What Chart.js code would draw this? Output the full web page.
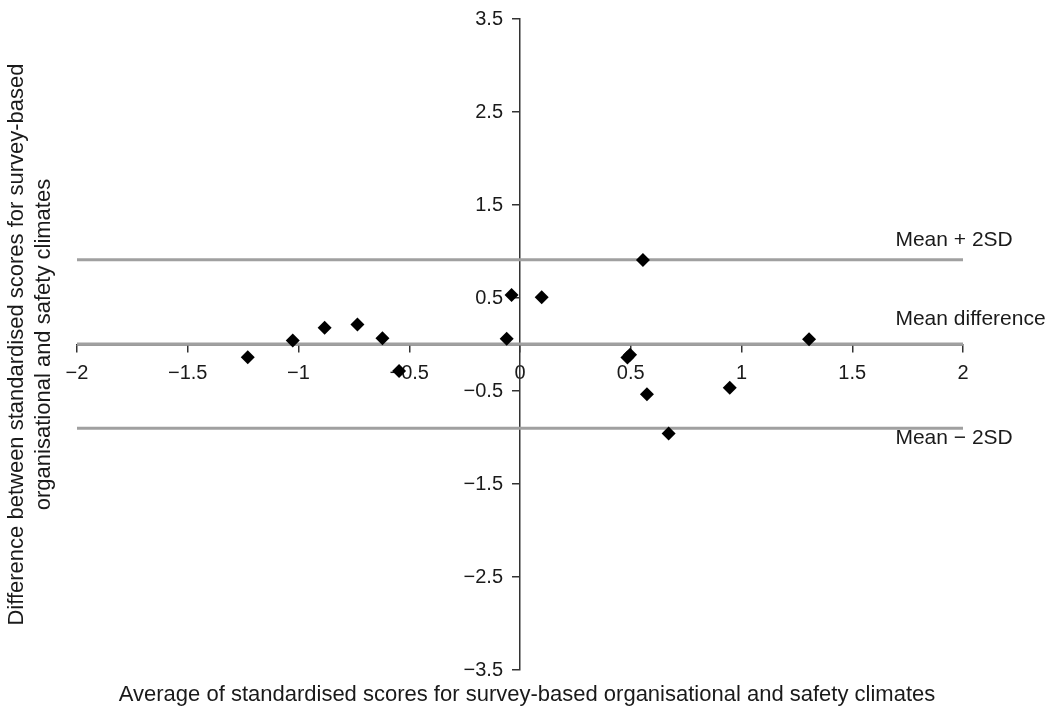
<!DOCTYPE html>
<html>
<head>
<meta charset="utf-8">
<script src="https://cdn.jsdelivr.net/npm/chart.js@4/dist/chart.umd.min.js"></script>
<style>
  html, body { margin: 0; padding: 0; background: #fff; }
  #wrap { width: 1054px; height: 711px; position: relative; }
</style>
</head>
<body>
<div id="wrap"><canvas id="blandAltman"></canvas></div>
<script>
// average of the two standardised scores (x) and their difference (y)
const avgScores = [-1.229, -1.026, -0.882, -0.734, -0.621, -0.546, -0.060, -0.038,
                   0.098, 0.555, 0.497, 0.485, 0.573, 0.671, 0.947, 1.305];
const diffScores = [-0.136, 0.043, 0.179, 0.214, 0.068, -0.286, 0.061, 0.533,
                    0.507, 0.908, -0.110, -0.140, -0.536, -0.957, -0.464, 0.057];

const limitNames = ["Mean + 2SD", "Mean difference", "Mean \u2212 2SD"];
const limitValues = [0.91, 0.005, -0.90];

const xTicks = [-2, -1.5, -1, -0.5, 0, 0.5, 1, 1.5, 2];
const yTicks = [-3.5, -2.5, -1.5, -0.5, 0.5, 1.5, 2.5, 3.5];

const xTitle = "Average of standardised scores for survey-based organisational and safety climates";
const yTitle = ["Difference between standardised scores for survey-based",
                "organisational and safety climates"];

const FONT = "'Liberation Sans', Arial, Helvetica, sans-serif";
const TEXT = "#1a1a1a";
const minus = (v) => String(v).replace("-", "\u2212");

const points = avgScores.map((x, i) => ({ x: x, y: diffScores[i] }));

const limitSets = limitValues.map((v, i) => ({
  label: limitNames[i],
  data: [{ x: xTicks[0], y: v }, { x: xTicks[xTicks.length - 1], y: v }],
  showLine: true,
  borderColor: "#a0a0a0",
  borderWidth: 3,
  pointRadius: 0,
}));

// y tick labels (left of the centred axis), limit line labels, axis titles
const annotations = {
  id: "annotations",
  afterDraw(chart) {
    const { ctx, scales } = chart;
    const axisX = scales.x.getPixelForValue(0);
    ctx.save();
    ctx.fillStyle = TEXT;

    ctx.font = "20px " + FONT;
    ctx.textAlign = "right";
    ctx.textBaseline = "middle";
    yTicks.forEach((v) => {
      ctx.fillText(minus(v), axisX - 17, scales.y.getPixelForValue(v));
    });

    ctx.font = "21px " + FONT;
    ctx.textAlign = "left";
    ctx.textBaseline = "alphabetic";
    const offsets = [-14, -19, 16];
    limitValues.forEach((v, i) => {
      const y = scales.y.getPixelForValue(v) + offsets[i];
      ctx.fillText(limitNames[i], scales.x.getPixelForValue(1.695), y);
    });

    ctx.font = "22px " + FONT;
    ctx.textAlign = "center";
    ctx.textBaseline = "middle";
    ctx.fillText(xTitle, 527, 695);

    ctx.translate(0, scales.y.getPixelForValue(0));
    ctx.rotate(-Math.PI / 2);
    ctx.fillText(yTitle[0], 0, 17);
    ctx.fillText(yTitle[1], 0, 44);
    ctx.restore();
  },
};

const axisColor = "#333";

new Chart(document.getElementById("blandAltman"), {
  type: "scatter",
  data: {
    datasets: [
      {
        label: "Organisations",
        data: points,
        pointStyle: "rectRot",
        pointRadius: 7,
        pointHoverRadius: 7,
        backgroundColor: "#000",
        borderColor: "#000",
        borderWidth: 0,
      },
      ...limitSets,
    ],
  },
  options: {
    responsive: true,
    maintainAspectRatio: false,
    animation: false,
    layout: { padding: { left: 77, right: 91, top: 19, bottom: 41 } },
    plugins: {
      legend: { display: false },
      tooltip: { enabled: false },
    },
    scales: {
      x: {
        type: "linear",
        min: -2,
        max: 2,
        position: { y: 0 },
        afterBuildTicks: (s) => { s.ticks = xTicks.map((v) => ({ value: v })); },
        grid: { drawOnChartArea: false, drawTicks: true, tickLength: 7, color: axisColor, lineWidth: 1.5 },
        border: { color: axisColor, width: 1.5 },
        ticks: {
          color: TEXT,
          font: { family: FONT, size: 20 },
          padding: 10,
          maxRotation: 0,
          autoSkip: false,
          callback: (v) => minus(v),
        },
      },
      y: {
        type: "linear",
        min: -3.5,
        max: 3.5,
        position: { x: 0 },
        afterBuildTicks: (s) => { s.ticks = yTicks.map((v) => ({ value: v })); },
        grid: { drawOnChartArea: false, drawTicks: true, tickLength: 7, color: axisColor, lineWidth: 1.5 },
        border: { color: axisColor, width: 1.5 },
        ticks: { display: false },
      },
    },
  },
  plugins: [annotations],
});
</script>
</body>
</html>
